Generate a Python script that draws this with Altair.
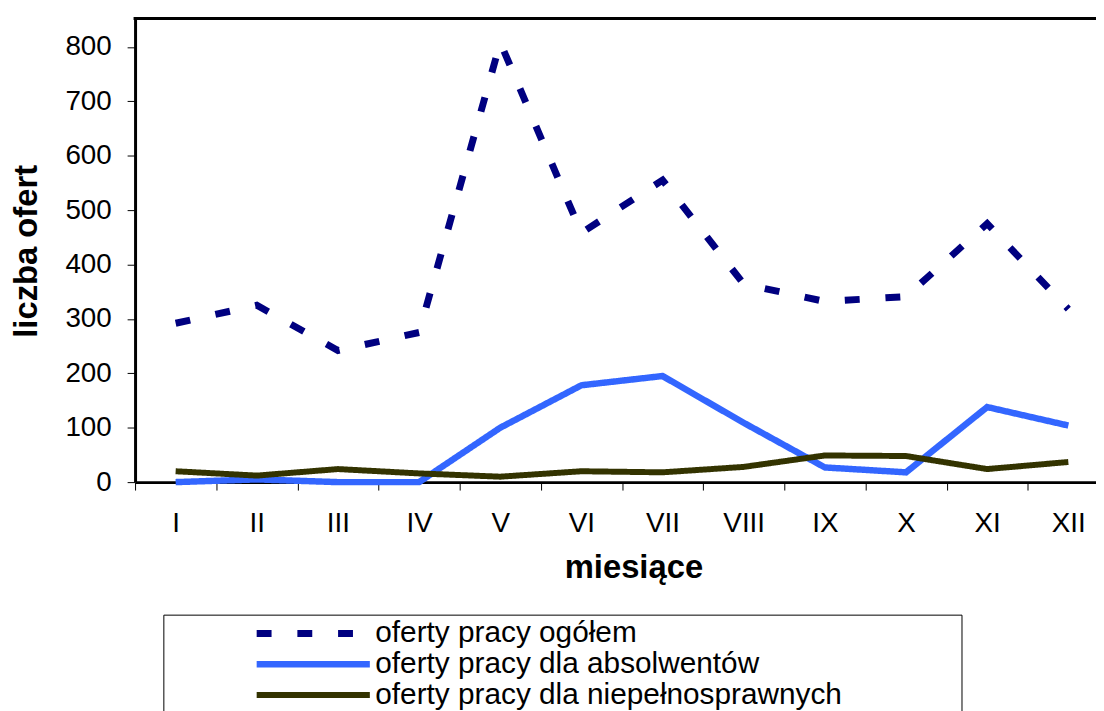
import altair as alt
import pandas as pd

months = ["I", "II", "III", "IV", "V", "VI", "VII", "VIII", "IX", "X", "XI", "XII"]
ogolem = [292, 325, 242, 275, 808, 458, 555, 364, 332, 341, 475, 318]
absolwenci = [0, 5, 0, 0, 100, 178, 195, 109, 27, 18, 138, 104]
niepelnosprawni = [20, 12, 24, 16, 10, 20, 18, 28, 49, 48, 24, 37]
series = [
    "oferty pracy ogółem",
    "oferty pracy dla absolwentów",
    "oferty pracy dla niepełnosprawnych",
]
colors = ["#000080", "#3366FF", "#333300"]
dashes = [[15, 26], [1, 0], [1, 0]]
widths = [7, 6, 6]
y_ticks = [0, 100, 200, 300, 400, 500, 600, 700, 800]

rows = []
for s, vals in zip(series, [ogolem, absolwenci, niepelnosprawni]):
    for i, (m, v) in enumerate(zip(months, vals)):
        rows.append({"miesiac": m, "idx": i, "seria": s, "liczba": v})
df = pd.DataFrame(rows)

FONT = "Liberation Sans"
PLOT_W = 968      # visible part of the plot area (right edge cut off by the page)
FULL_W = 981      # full category axis length

legend = alt.Legend(
    title=None,
    orient="none",
    legendX=119,
    legendY=605,
    padding=0,
    clipHeight=29,
    rowPadding=0,
    symbolType="stroke",
    symbolSize=12996,
    symbolStrokeWidth=7,
    labelFont=FONT,
    labelFontSize=30,
    labelColor="black",
    labelOffset=2,
    labelLimit=0,
)

lines = alt.Chart(df).mark_line(strokeJoin="miter").encode(
    x=alt.X(
        "miesiac:N",
        sort=months,
        scale=alt.Scale(type="band", paddingInner=0, paddingOuter=0, range=[0, FULL_W]),
        axis=alt.Axis(
            title="miesiące",
            titleFont=FONT,
            titleFontSize=33,
            titleFontWeight="bold",
            titleColor="black",
            titleX=502,
            titleY=96,
            titleBaseline="alphabetic",
            labelAngle=0,
            labelFont=FONT,
            labelFontSize=28,
            labelColor="black",
            labelPadding=20,
            tickBand="extent",
            tickSize=8,
            tickColor="black",
            tickWidth=1,
            domain=True,
            domainColor="black",
            domainWidth=3,
            grid=False,
        ),
    ),
    y=alt.Y(
        "liczba:Q",
        scale=alt.Scale(domain=[0, 852], nice=False, zero=True),
        axis=alt.Axis(
            values=y_ticks,
            title="liczba ofert",
            titleFont=FONT,
            titleFontSize=33,
            titleFontWeight="bold",
            titleColor="black",
            titleX=-99,
            titleY=234,
            titleAngle=270,
            titleBaseline="alphabetic",
            labelFont=FONT,
            labelFontSize=28,
            labelColor="black",
            labelPadding=16,
            tickSize=8,
            tickColor="black",
            tickWidth=1,
            domain=True,
            domainColor="black",
            domainWidth=3,
            grid=False,
        ),
    ),
    color=alt.Color(
        "seria:N", sort=series, scale=alt.Scale(domain=series, range=colors), legend=legend
    ),
    strokeDash=alt.StrokeDash(
        "seria:N", sort=series, scale=alt.Scale(domain=series, range=dashes), legend=legend
    ),
    strokeWidth=alt.StrokeWidth(
        "seria:N", sort=series, scale=alt.Scale(domain=series, range=widths), legend=None
    ),
    order=alt.Order("idx:Q"),
)

deco = pd.DataFrame({"a": [0]})

top_border = alt.Chart(deco).mark_rule(stroke="black", strokeWidth=3).encode(
    x=alt.value(-1.5), x2=alt.value(FULL_W), y=alt.value(0)
)

frame = alt.Chart(deco).mark_rect(
    fill=None, stroke="black", strokeWidth=1
).encode(
    x=alt.value(29), x2=alt.value(833), y=alt.value(601), y2=alt.value(730)
)

chart = alt.layer(frame, top_border, lines).properties(
    width=PLOT_W,
    height=467,
    padding={"left": 128, "top": 8, "right": 0, "bottom": 236},
    autosize=alt.AutoSizeParams(type="none"),
).configure_view(stroke=None)

chart.save("out.html", embed_options={"renderer": "svg", "actions": False})
